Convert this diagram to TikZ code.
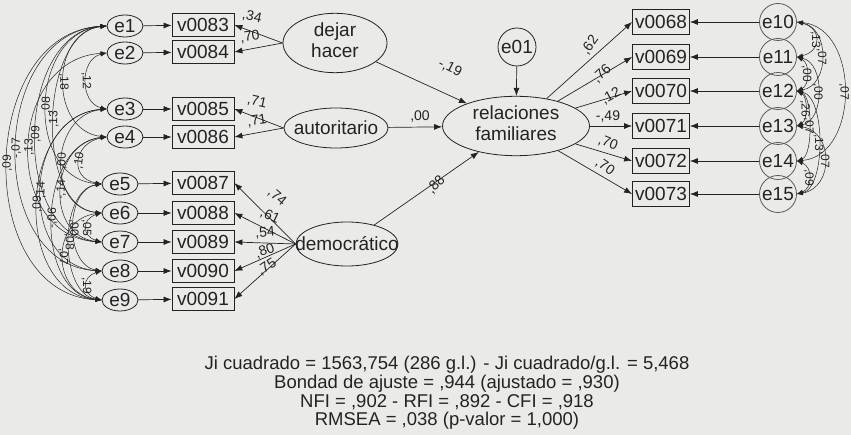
\documentclass[tikz,border=0pt]{standalone}
\usepackage{fontspec}
\setmainfont{Liberation Sans}
\usetikzlibrary{arrows.meta,shapes.geometric}
\definecolor{bg}{RGB}{234,235,233}
\definecolor{ink}{RGB}{35,35,35}
\newcommand{\zerobox}[1]{\makebox[0pt]{#1}}
\newcommand{\twolines}[2]{\makebox[0pt]{\begin{tabular}{@{}c@{}}#1\\#2\end{tabular}}}
\begin{document}
\begin{tikzpicture}[x=1pt,y=-1pt,
  font=\fontsize{19}{21}\selectfont,
  every node/.style={text=ink},
  lat/.style={ellipse,draw=ink,line width=0.8pt,inner sep=0pt},
  err/.style={ellipse,draw=ink,line width=0.8pt,inner sep=0pt,minimum width=36pt,minimum height=22pt},
  errc/.style={circle,draw=ink!75,line width=0.8pt,inner sep=0pt,minimum size=37pt},
  obsl/.style={rectangle,draw=ink,line width=0.8pt,inner sep=0pt,minimum height=23pt,minimum width=62pt},
  obsr/.style={rectangle,draw=ink,line width=0.8pt,inner sep=0pt,minimum height=25pt,minimum width=57pt},
  pth/.style={draw=ink,line width=0.7pt,-{Latex[length=8pt,width=6pt]}},
  cov/.style={draw=ink,line width=0.5pt,{Latex[length=6pt,width=4.5pt]}-{Latex[length=6pt,width=4.5pt]}},
  lbl/.style={font=\fontsize{14}{14}\selectfont,inner sep=0pt},
  clbl/.style={font=\fontsize{12}{12}\selectfont,inner sep=0.5pt,midway,sloped},
]
\fill[bg] (0,0) rectangle (851,435);
\useasboundingbox (0,0) rectangle (851,435);

% left error terms
\node[err] (e1) at (125,26) {\zerobox{e1}};
\node[err] (e2) at (125,53) {\zerobox{e2}};
\node[err] (e3) at (125,109) {\zerobox{e3}};
\node[err] (e4) at (125,137) {\zerobox{e4}};
\node[err] (e5) at (120,184) {\zerobox{e5}};
\node[err] (e6) at (120,213) {\zerobox{e6}};
\node[err] (e7) at (120,242) {\zerobox{e7}};
\node[err] (e8) at (120,271) {\zerobox{e8}};
\node[err] (e9) at (120,300) {\zerobox{e9}};

% left observed
\node[obsl] (b83) at (203,25) {v0083};
\node[obsl] (b84) at (203,52) {v0084};
\node[obsl] (b85) at (203,109) {v0085};
\node[obsl] (b86) at (203,137) {v0086};
\node[obsl] (b87) at (203,183) {v0087};
\node[obsl] (b88) at (203,213) {v0088};
\node[obsl] (b89) at (203,242) {v0089};
\node[obsl] (b90) at (203,271) {v0090};
\node[obsl] (b91) at (203,299) {v0091};

% latent
\node[lat,minimum width=104pt,minimum height=42pt] (dh) at (335,43) {\twolines{dejar}{hacer}};
\node[lat,minimum width=104pt,minimum height=40pt] (au) at (336,128) {\zerobox{autoritario}};
\node[lat,minimum width=102pt,minimum height=44pt] (dm) at (347,244) {\zerobox{democrático}};
\node[lat,minimum width=147pt,minimum height=56pt] (rf) at (516,126) {\twolines{relaciones}{familiares}};
\node[circle,draw=ink,line width=0.8pt,inner sep=0pt,minimum size=38pt] (e01) at (517,47) {\zerobox{e01}};

% right observed
\node[obsr] (b68) at (661,22) {v0068};
\node[obsr] (b69) at (661,57) {v0069};
\node[obsr] (b70) at (661,91) {v0070};
\node[obsr] (b71) at (661,126) {v0071};
\node[obsr] (b72) at (661,161) {v0072};
\node[obsr] (b73) at (661,194) {v0073};

% right error terms
\node[errc] (e10) at (778,22) {\zerobox{e10}};
\node[errc] (e11) at (778,57) {\zerobox{e11}};
\node[errc] (e12) at (778,91) {\zerobox{e12}};
\node[errc] (e13) at (778,126) {\zerobox{e13}};
\node[errc] (e14) at (778,161) {\zerobox{e14}};
\node[errc] (e15) at (778,194) {\zerobox{e15}};

% error -> observed (left)
\foreach \a/\b in {e1/b83,e2/b84,e3/b85,e4/b86,e5/b87,e6/b88,e7/b89,e8/b90,e9/b91}
  \draw[pth] (\a) -- (\b);
% error -> observed (right)
\foreach \a/\b in {e10/b68,e11/b69,e12/b70,e13/b71,e14/b72,e15/b73}
  \draw[pth] (\a) -- (\b);

% loadings
\draw[pth] (dh.west) -- (b83.east);
\draw[pth] (dh.west) -- (b84.east);
\draw[pth] (au.west) -- (b85.east);
\draw[pth] (au.west) -- (b86.east);
\foreach \b in {b87,b88,b89,b90,b91}
  \draw[pth] (dm.west) -- (\b.east);
\foreach \b in {b68,b69,b70,b71,b72,b73}
  \draw[pth] (rf) -- (\b.west);

% structural
\draw[pth] (dh) -- (rf);
\draw[pth] (au) -- (rf);
\draw[pth] (dm) -- (rf);
\draw[pth] (e01) -- (rf);

% path labels
\node[lbl,rotate=-12] (l1) at (252,17) {,34};
\node[lbl,rotate=8] (l2) at (250,37) {,70};
\node[lbl,rotate=-12] (l3) at (257,102) {,71};
\node[lbl,rotate=8] (l4) at (257,121) {,71};
\node[lbl,rotate=-40] (l5) at (277,197) {,74};
\node[lbl,rotate=-25] (l6) at (270,216) {,61};
\node[lbl,rotate=5] (l7) at (265,233) {,54};
\node[lbl,rotate=20] (l8) at (265,251) {,80};
\node[lbl,rotate=33] (l9) at (267,267) {,75};
\node[lbl,rotate=-27] (l10) at (450,68) {-,19};
\node[lbl] (l11) at (420,117) {,00};
\node[lbl,rotate=47] (l12) at (436,185) {,88};
\node[lbl,rotate=55] (l13) at (590,45) {,62};
\node[lbl,rotate=42] (l14) at (602,74) {,76};
\node[lbl,rotate=28] (l15) at (611,96) {,12};
\node[lbl] (l16) at (608,117) {-,49};
\node[lbl,rotate=-22] (l17) at (608,143) {,70};
\node[lbl,rotate=-35] (l18) at (605,167) {,70};

% left covariances
\foreach \a/\b/\k/\t in {e2/e3/27/{,12},e1/e4/57/{,18},e1/e5/77/{,08},e1/e6/67/{,13},
  e1/e7/91/{,09},e1/e8/117/{-,07},e1/e9/129/{,09},e2/e7/100/{,13},e3/e6/56/{,00},
  e4/e5/33/{,10},e4/e7/57/{-,14},e3/e8/84/{,14},e3/e9/89/{,09},e6/e7/20/{,05},
  e5/e9/43/{,08},e6/e9/51/{,07},e4/e9/69/{-,06},e8/e9/20/{,19},e5/e8/37/{,00}}
  \draw[cov] (\a.west) .. controls +(-\k,6) and +(-\k,-6) .. (\b.west) node[clbl] {\t};

% right covariances
\foreach \a/\b/\k/\t in {e10/e11/25/{,13},e10/e12/33/{,07},e11/e12/13/{,00},e11/e13/28/{,00},
  e10/e14/63/{,07},e12/e13/11/{,26},e12/e14/16/{,07},e12/e15/29/{,13},e13/e15/37/{,07},
  e14/e15/16/{,09}}
  \draw[cov] (\a.east) .. controls +(\k,6) and +(\k,-6) .. (\b.east) node[clbl] {\t};

% fit indices
\node[align=center,font=\fontsize{18.5}{18.7}\selectfont] (fit) at (447,393)
  {Ji cuadrado = 1563,754 (286 g.l.) - Ji cuadrado/g.l. = 5,468\\
   Bondad de ajuste = ,944 (ajustado = ,930)\\
   NFI = ,902 - RFI = ,892 - CFI = ,918\\
   RMSEA = ,038 (p-valor = 1,000)};
\end{tikzpicture}
\end{document}
